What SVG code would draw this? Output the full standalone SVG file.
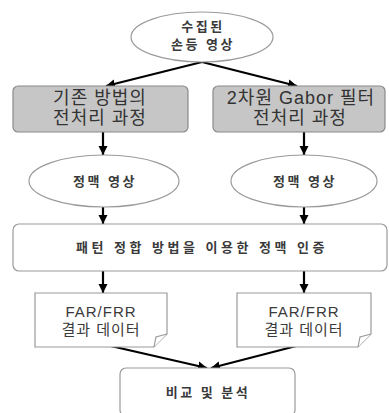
<svg xmlns="http://www.w3.org/2000/svg" width="389" height="413" viewBox="0 0 389 413">
<defs>
<marker id="ah" viewBox="0 0 10 10" refX="10" refY="5" markerWidth="9" markerHeight="10" orient="auto" markerUnits="userSpaceOnUse">
<path d="M0,0 L10,5 L0,10 z" fill="#000"/>
</marker>
<style>
.node{fill:#fff;stroke:#9a9a9a;stroke-width:1.2}
.gray{fill:#c6c6c6;stroke:#8a8a8a;stroke-width:1.2}
.t{font-family:"Liberation Sans","Noto Sans CJK KR",sans-serif;fill:#2a2a2a;text-anchor:middle}
.big{font-size:18px;letter-spacing:1px;fill:#333}
.sm{font-size:13px;font-weight:bold;letter-spacing:2.5px;fill:#3a3a3a}
.md{font-size:15px;letter-spacing:1px;fill:#3a3a3a}
.conn line{stroke:#000;stroke-width:2.2;marker-end:url(#ah)}
</style>
</defs>
<rect width="389" height="413" fill="#fff"/>
<g class="conn">
<line x1="202" y1="62" x2="106" y2="86"/>
<line x1="202" y1="62" x2="297" y2="86"/>
<line x1="103" y1="132" x2="103" y2="155"/>
<line x1="304" y1="132" x2="304" y2="155"/>
<line x1="103" y1="207" x2="103" y2="224"/>
<line x1="304" y1="207" x2="304" y2="224"/>
<line x1="103" y1="271" x2="103" y2="293"/>
<line x1="304" y1="271" x2="304" y2="293"/>
<line x1="102" y1="344" x2="207" y2="368"/>
<line x1="304" y1="344" x2="211" y2="368"/>
</g>
<g id="n1">
<ellipse class="node" cx="202" cy="37" rx="71" ry="25"/>
<text class="t sm" x="203" y="31">수집된</text>
<text class="t sm" x="203" y="49">손등 영상</text>
</g>
<g id="n2">
<rect class="gray" x="13" y="86" width="175" height="46" rx="5"/>
<text class="t big" x="100" y="104">기존 방법의</text>
<text class="t big" x="100" y="124">전처리 과정</text>
</g>
<g id="n3">
<rect class="gray" x="213" y="86" width="172" height="46" rx="5"/>
<text class="t big" x="301" y="104">2차원 Gabor 필터</text>
<text class="t big" x="300" y="124">전처리 과정</text>
</g>
<g id="n4">
<ellipse class="node" cx="104" cy="181" rx="75" ry="26"/>
<text class="t sm" x="105" y="186">정맥 영상</text>
</g>
<g id="n5">
<ellipse class="node" cx="304" cy="181" rx="73" ry="26"/>
<text class="t sm" x="305" y="186">정맥 영상</text>
</g>
<g id="n6">
<rect class="node" x="13" y="224" width="374" height="47" rx="6"/>
<text class="t sm" x="202" y="252" style="letter-spacing:3.5px">패턴 정합 방법을 이용한 정맥 인증</text>
</g>
<g id="n7">
<path class="node" d="M35,293 H167 V334 L154,347 H35 Z"/>
<path class="node" d="M167,334 L156,337 L154,347" fill="none"/>
<text class="t md" x="101" y="317">FAR/FRR</text>
<text class="t md" x="101" y="335">결과 데이터</text>
</g>
<g id="n8">
<path class="node" d="M237,293 H371 V334 L358,347 H237 Z"/>
<path class="node" d="M371,334 L360,337 L358,347" fill="none"/>
<text class="t md" x="304" y="317">FAR/FRR</text>
<text class="t md" x="304" y="335">결과 데이터</text>
</g>
<g id="n9">
<rect class="node" x="120" y="368" width="175" height="48" rx="6"/>
<text class="t sm" x="208" y="397">비교 및 분석</text>
</g>
</svg>
